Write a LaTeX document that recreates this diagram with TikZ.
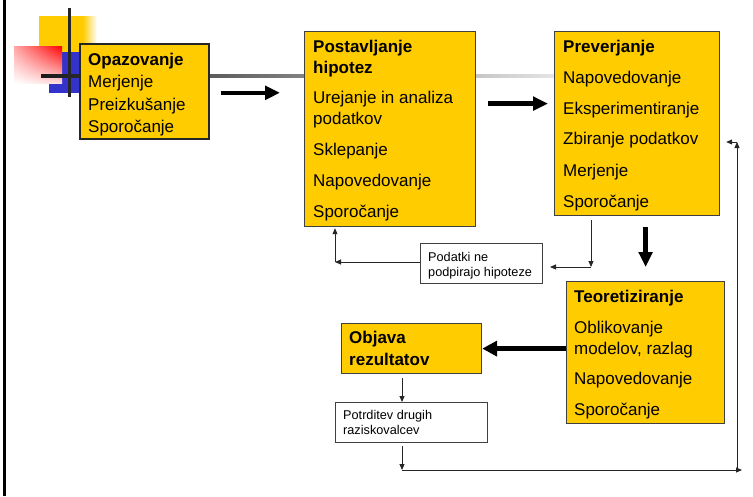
\documentclass[tikz,border=0pt]{standalone}
\usepackage{fontspec}
\setmainfont{Liberation Sans}
\usetikzlibrary{arrows.meta,calc,shadings}
\definecolor{boxyellow}{HTML}{FFCC00}
\definecolor{decoblue}{HTML}{3333CC}
\newcommand\mytx[4]{\node[tx] (#1) at (#2,#3) {#4};}
\newcommand\mysx[4]{\node[sx] (#1) at (#2,#3) {#4};}
\begin{document}
\begin{tikzpicture}[x=1pt,y=-1pt,
  ybox/.style={draw=black!75, line width=1.2pt, fill=boxyellow, inner sep=0pt, anchor=north west},
  wbox/.style={draw=black!75, line width=1pt, fill=white, inner sep=0pt, anchor=north west},
  tx/.style={anchor=base west, inner sep=0pt, font=\fontsize{17}{20}\selectfont},
  sx/.style={anchor=base west, inner sep=0pt, font=\fontsize{12.7}{15}\selectfont},
  barr/.style={line width=4.5pt, black, -{Triangle[length=15pt,width=13.5pt]}},
  tarr/.style={line width=0.9pt, black!85, -{Triangle[length=6pt,width=5pt]}}]
\useasboundingbox (0,0) rectangle (753,496);
\fill[white] (0,0) rectangle (753,496);
% decoration
\fill[boxyellow] (39,16) rectangle (83,52);
\shade[left color=boxyellow, right color=white] (82.8,16) rectangle (97,52);
\fill[decoblue] (49,52) rectangle (81,93);
\shade[upper right=red, upper left=red!35, lower right=red!15, lower left=white] (14,46) rectangle (62,83);
\shade[left color=black!90, right color=white] (41,74.5) rectangle (620,77.5);
\draw[line width=3pt, black!85] (69,8) -- (69,97);
\draw[line width=2.5pt, black] (4.5,0) -- (4.5,496);
% boxes
\node[ybox, line width=1.6pt, draw=black!85, minimum width=129pt, minimum height=95pt] (opaz) at (79,43) {};
\node[ybox, minimum width=171pt, minimum height=195pt] (post) at (304,31) {};
\node[ybox, minimum width=165pt, minimum height=184pt] (prev) at (554,31) {};
\node[ybox, minimum width=158pt, minimum height=142pt] (teor) at (566,281) {};
\node[ybox, minimum width=140pt, minimum height=50pt] (objava) at (341,323) {};
\node[wbox, minimum width=122pt, minimum height=40pt] (podatki) at (420,243) {};
\node[wbox, minimum width=152pt, minimum height=40pt] (potr) at (335,402) {};
% texts
\mytx{o1}{88}{65}{\bfseries Opazovanje}
\mytx{o2}{88}{87}{Merjenje}
\mytx{o3}{88}{110}{Preizkušanje}
\mytx{o4}{88}{132}{Sporočanje}
\mytx{p1}{313}{52}{\bfseries Postavljanje}
\mytx{p2}{313}{73}{\bfseries hipotez}
\mytx{p3}{313}{103}{Urejanje in analiza}
\mytx{p4}{313}{124}{podatkov}
\mytx{p5}{313}{155}{Sklepanje}
\mytx{p6}{313}{186}{Napovedovanje}
\mytx{p7}{313}{217}{Sporočanje}
\mytx{r1}{563}{52}{\bfseries Preverjanje}
\mytx{r2}{563}{83}{Napovedovanje}
\mytx{r3}{563}{114}{Eksperimentiranje}
\mytx{r4}{563}{144}{Zbiranje podatkov}
\mytx{r5}{563}{176}{Merjenje}
\mytx{r6}{563}{207}{Sporočanje}
\mytx{t1}{574}{302}{\bfseries Teoretiziranje}
\mytx{t2}{574}{333}{Oblikovanje}
\mytx{t3}{574}{354}{modelov, razlag}
\mytx{t4}{574}{384}{Napovedovanje}
\mytx{t5}{574}{415}{Sporočanje}
\mytx{b1}{349}{343}{\bfseries Objava}
\mytx{b2}{349}{365}{\bfseries rezultatov}
\mysx{d1}{428}{261}{Podatki ne}
\mysx{d2}{428}{276}{podpirajo hipoteze}
\mysx{e1}{343}{419}{Potrditev drugih}
\mysx{e2}{343}{434}{raziskovalcev}
% big arrows
\draw[barr] ($(opaz.east)+(11,1.5)$) -- ($(post.west |- opaz.east)+(-24,1.5)$);
\draw[barr] ($(post.east)+(12,-25.5)$) -- ($(prev.west |- post.east)+(-6,-25.5)$);
\draw[barr] ($(teor.north |- prev.south)+(0,11)$) -- ($(teor.north)+(0,-14)$);
\draw[barr, line width=5pt, -{Triangle[length=15pt,width=15pt]}] (teor.west |- objava.east) -- (objava.east);
% thin arrows
\coordinate (pdn) at (591,267);
\coordinate (pup) at (335,262);
\coordinate (bl) at (402,470);
\coordinate (br) at (742,470);
\coordinate (rv) at (737,470);
\coordinate (rt) at (737,142);
\draw[tarr] ($(prev.south -| pdn)+(0,4)$) -- (pdn);
\draw[tarr] (pdn) -- ($(podatki.east |- pdn)+(7,0)$);
\draw[tarr] (podatki.west |- pup) -- (pup);
\draw[tarr] (pup) -- ($(post.south -| pup)+(0,1)$);
\draw[tarr] ($(objava.south -| bl)+(0,4)$) -- (potr.north -| bl);
\draw[tarr] ($(potr.south -| bl)+(0,3)$) -- (bl);
\draw[tarr] (bl) -- (br);
\draw[tarr] (rv) -- (rt);
\draw[tarr] (rt) -- ($(prev.east |- rt)+(6,0)$);
\end{tikzpicture}
\end{document}
